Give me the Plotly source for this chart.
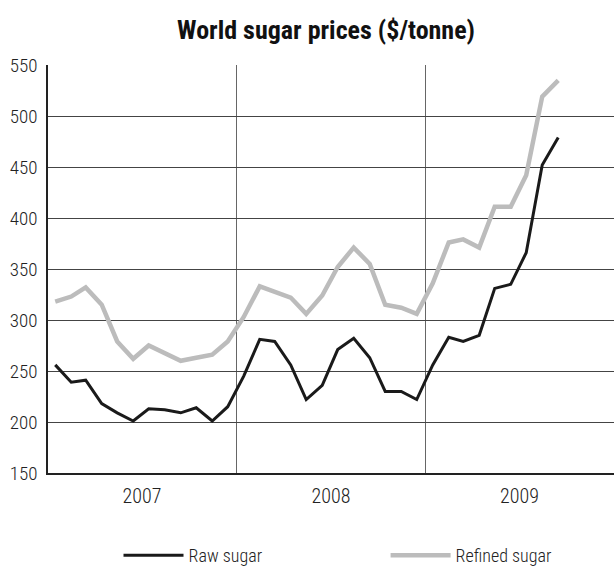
import plotly.graph_objects as go

# Monthly world sugar prices, $/tonne (Jan 2007 - Sep 2009)
months = [f"{y}-{m:02d}-15" for y in (2007, 2008) for m in range(1, 13)] + \
         [f"2009-{m:02d}-15" for m in range(1, 10)]

raw_sugar = [256, 239, 241, 218, 209, 201, 213, 212, 209, 214, 201, 215,
             245, 281, 279, 256, 222, 236, 271, 282, 263, 230, 230, 222,
             256, 283, 279, 285, 331, 335, 366, 452, 479]

refined_sugar = [318, 323, 332, 315, 279, 262, 275, 268, 260, 263, 266, 279,
                 303, 333, 328, 322, 306, 324, 352, 371, 355, 315, 312, 306,
                 336, 376, 379, 371, 411, 411, 442, 519, 535]

year_labels = ["2007", "2008", "2009"]
year_mid = ["2007-07-02", "2008-07-02", "2009-07-02"]
year_starts = ["2008-01-01", "2009-01-01"]

FONT = "Roboto Condensed, DejaVu Sans Condensed, Liberation Sans Narrow, sans-serif"
LABEL_FONT = dict(family=FONT, size=19, color="#222", weight=300)

fig = go.Figure()
fig.add_trace(go.Scatter(
    x=months, y=raw_sugar, mode="lines", name="Raw sugar",
    line=dict(color="#1a1a1a", width=3), legend="legend",
))
fig.add_trace(go.Scatter(
    x=months, y=refined_sugar, mode="lines", name="Refined sugar",
    line=dict(color="#bcbcbc", width=4.5), legend="legend2",
))

legend_style = dict(
    orientation="h", xref="container", yref="container",
    xanchor="left", yanchor="middle", y=0.022,
    font=dict(LABEL_FONT, size=18),
    itemwidth=60, bgcolor="rgba(0,0,0,0)",
)

fig.update_layout(
    width=614, height=568,
    paper_bgcolor="white", plot_bgcolor="white",
    margin=dict(l=48, r=0, t=65, b=95),
    font=LABEL_FONT,
    title=dict(
        text="<b>World sugar prices ($/tonne)</b>",
        x=0.531, xanchor="center", y=0.947, yanchor="middle",
        font=dict(family=FONT, size=26, color="#111"),
    ),
    showlegend=True,
    legend=dict(legend_style, x=0.193),
    legend2=dict(legend_style, x=0.628),
    xaxis=dict(
        type="date",
        range=["2007-01-01", "2010-01-01"],
        tickmode="array", tickvals=year_mid, ticktext=year_labels,
        ticks="", showgrid=False, zeroline=False,
        showline=True, linecolor="#222", linewidth=1.5,
        ticklabelstandoff=4,
        tickfont=dict(LABEL_FONT, size=20),
        minor=dict(tickmode="array", tickvals=year_starts, showgrid=True,
                   gridcolor="#666", gridwidth=1, ticks=""),
        fixedrange=True,
    ),
    yaxis=dict(
        range=[150, 550], dtick=50, tick0=150,
        showgrid=True, gridcolor="#444", gridwidth=1,
        zeroline=False, showline=True, linecolor="#222", linewidth=1.5,
        ticks="", ticklabelstandoff=5,
        tickfont=LABEL_FONT,
        fixedrange=True,
    ),
)

fig.write_html("out.html")
